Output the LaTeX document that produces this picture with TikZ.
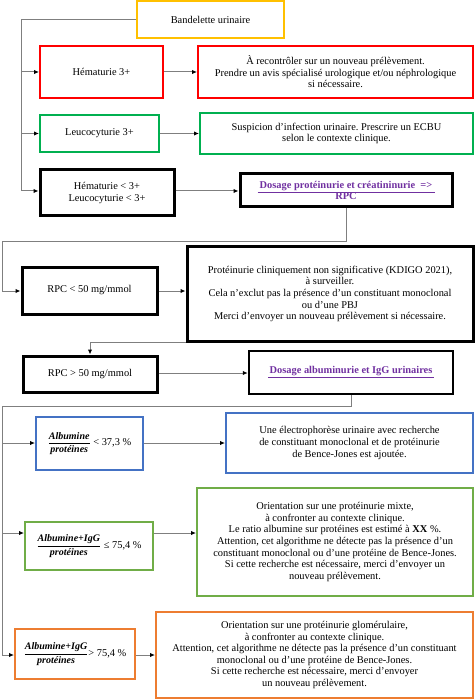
\documentclass[tikz,border=0pt]{standalone}
\usepackage{fontspec}
\setmainfont{Liberation Serif}
\usetikzlibrary{arrows.meta}
\frenchspacing
\definecolor{cband}{HTML}{FFC000}
\definecolor{cred}{HTML}{FF0000}
\definecolor{cgreenA}{HTML}{00B050}
\definecolor{cgreenB}{HTML}{70AD47}
\definecolor{cblue}{HTML}{4472C4}
\definecolor{corange}{HTML}{ED7D31}
\definecolor{cpurple}{HTML}{7030A0}
\definecolor{cconn}{HTML}{7F7F7F}
\tikzset{
  box/.style={draw=#1, line width=2pt, rectangle, inner sep=0pt, align=center,
    font=\fontsize{10.4}{11.6}\selectfont, text=black},
  blackbox/.style={draw=black, line width=3pt, rectangle, inner sep=0pt, align=center,
    font=\fontsize{10.4}{11.6}\selectfont, text=black},
  conn/.style={draw=cconn, line width=1pt},
  arr/.style={conn, -{Latex[length=5pt,width=4.5pt,color=black]}},
}
\newcommand{\fracbox}[2]{$\displaystyle\frac{\mbox{\fontsize{10}{11}\selectfont\bfseries\itshape #1}}{\mbox{\fontsize{10}{11}\selectfont\bfseries\itshape #2}}$}
\begin{document}
\begin{tikzpicture}[x=1pt,y=-1pt]
\useasboundingbox (0,0) rectangle (475,700);
% nodes
\node[box=cband, minimum width=147, minimum height=37] (band) at (210.5,19.5) {Bandelette urinaire};
\node[box=cred, minimum width=123, minimum height=52] (hem3) at (101.5,72) {Hématurie 3+};
\node[box=cred, minimum width=275, minimum height=52] (hem3r) at (335.5,72)
  {À recontrôler sur un nouveau prélèvement.\\ Prendre un avis spécialisé urologique et/ou néphrologique\\ si nécessaire.};
\node[box=cgreenA, minimum width=119, minimum height=37] (leu3) at (99.5,133.5) {Leucocyturie 3+};
\node[box=cgreenA, minimum width=273, minimum height=41] (leu3r) at (336.5,133.5)
  {Suspicion d’infection urinaire. Prescrire un ECBU\\ selon le contexte clinique.};
\node[blackbox, minimum width=134, minimum height=46] (hemlow) at (107,193)
  {Hématurie < 3+\\ Leucocyturie < 3+};
\node[blackbox, minimum width=212, minimum height=33, text=cpurple] (dosp) at (346,190.5)
  {\underline{\makebox[177pt]{\bfseries Dosage protéinurie et créatininurie\ \ =>}}\\ \textbf{RPC}};
\node[blackbox, minimum width=135, minimum height=47] (rpc50) at (89.5,290.5) {RPC < 50 mg/mmol};
\node[blackbox, minimum width=286, minimum height=94] (rpc50r) at (330,294)
  {Protéinurie cliniquement non significative (KDIGO 2021),\\ à surveiller.\\ Cela n’exclut pas la présence d’un constituant monoclonal\\ ou d’une PBJ\\ Merci d’envoyer un nouveau prélèvement si nécessaire.};
\node[blackbox, minimum width=134, minimum height=36] (rpc50b) at (90,374) {RPC > 50 mg/mmol};
\node[blackbox, line width=2.5pt, minimum width=204, minimum height=43, text=cpurple] (dosa) at (351,372.5)
  {\underline{\makebox[166pt]{\bfseries Dosage albuminurie et IgG urinaires}}};
\node[box=cblue, minimum width=107, minimum height=53] (blue) at (89.5,443.5)
  {\fracbox{Albumine}{protéines} < 37,3 \%};
\node[box=cblue, minimum width=247, minimum height=60] (bluer) at (349.5,443)
  {Une électrophorèse urinaire avec recherche\\ de constituant monoclonal et de protéinurie\\ de Bence-Jones est ajoutée.};
\node[box=cgreenB, minimum width=128, minimum height=48] (grn) at (89,546)
  {\fracbox{Albumine+IgG}{protéines} ≤ 75,4 \%};
\node[box=cgreenB, minimum width=276, minimum height=108] (grnr) at (335,542)
  {Orientation sur une protéinurie mixte,\\ à confronter au contexte clinique.\\ Le ratio albumine sur protéines est estimé à \textbf{XX} \%.\\ Attention, cet algorithme ne détecte pas la présence d’un\\ constituant monoclonal ou d’une protéine de Bence-Jones.\\ Si cette recherche est nécessaire, merci d’envoyer un\\ nouveau prélèvement.};
\node[box=corange, minimum width=120, minimum height=50] (org) at (75,654)
  {\fracbox{Albumine+IgG}{protéines}> 75,4 \%};
\node[box=corange, minimum width=317, minimum height=86] (orgr) at (314.5,655)
  {Orientation sur une protéinurie glomérulaire,\\ à confronter au contexte clinique.\\ Attention, cet algorithme ne détecte pas la présence d’un constituant\\ monoclonal ou d’une protéine de Bence-Jones.\\ Si cette recherche est nécessaire, merci d’envoyer\\ un nouveau prélèvement.};
% trunk 1
\coordinate (t1) at (21,19.5);
\coordinate (t1b) at (21,191);
\draw[conn] (band.west) -- (t1) -- (t1b);
\draw[arr] (t1 |- hem3.west) -- (hem3.west);
\draw[arr] (t1 |- leu3.west) -- (leu3.west);
\draw[arr] (t1b) -- (t1b -| hemlow.west);
\draw[arr] (hem3.east) -- (hem3r.west);
\draw[arr] (leu3.east) -- (leu3r.west);
\draw[arr] (hemlow.east |- t1b) -- (t1b -| dosp.west);
% to RPC < 50
\coordinate (k1) at (2,242);
\coordinate (r1) at (2,291);
\draw[arr] (dosp.south) |- (k1) -- (r1) -- (r1 -| rpc50.west);
\draw[arr] (rpc50.east |- r1) -- (r1 -| rpc50r.west);
% to RPC > 50
\draw[arr] (rpc50r.south west) -| (rpc50b.north);
\coordinate (r2) at (0,373);
\draw[arr] (rpc50b.east |- r2) -- (r2 -| dosa.west);
% trunk 2
\coordinate (t2) at (2,406);
\coordinate (gb) at (2,443);
\coordinate (gg) at (2,533);
\coordinate (go) at (2,655);
\draw[conn] (dosa.south) |- (t2) -- (go);
\draw[arr] (gb) -- (gb -| blue.west);
\draw[arr] (gg) -- (gg -| grn.west);
\draw[arr] (go) -- (go -| org.west);
\draw[arr] (blue.east |- gb) -- (gb -| bluer.west);
\draw[arr] (grn.east |- gg) -- (gg -| grnr.west);
\draw[arr] (org.east |- go) -- (go -| orgr.west);
\end{tikzpicture}
\end{document}
